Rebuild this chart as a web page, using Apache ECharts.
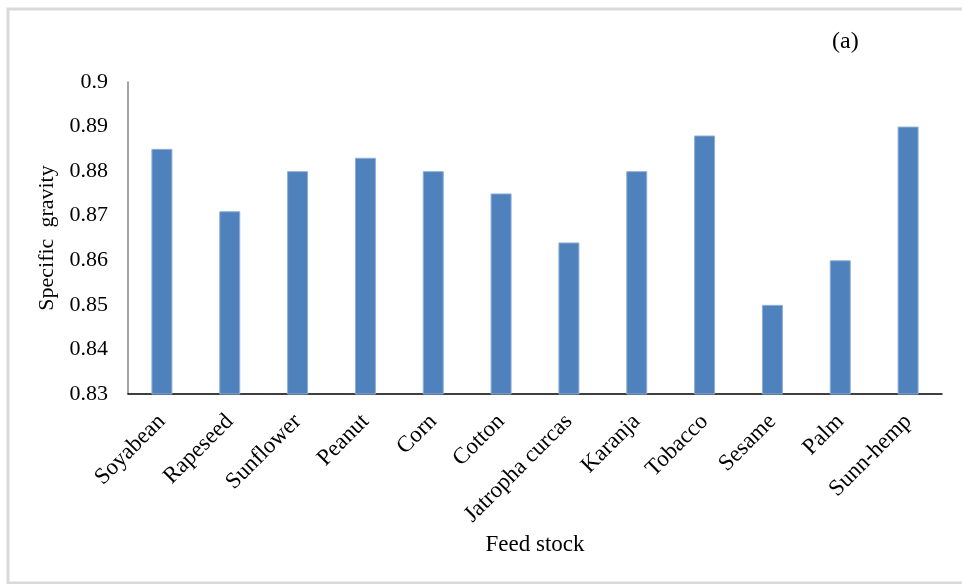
<!DOCTYPE html>
<html>
<head>
<meta charset="utf-8">
<script src="https://cdn.jsdelivr.net/npm/echarts@6/dist/echarts.min.js"></script>
<style>
  html, body { margin: 0; padding: 0; background: #ffffff; }
  #chart { width: 962px; height: 584px; }
</style>
</head>
<body>
<div id="chart"></div>
<script>
// Feed stocks and their specific gravity
const categories = ['Soyabean', 'Rapeseed', 'Sunflower', 'Peanut', 'Corn', 'Cotton',
  'Jatropha curcas', 'Karanja', 'Tobacco', 'Sesame', 'Palm', 'Sunn-hemp'];
const specificGravity = [0.885, 0.871, 0.880, 0.883, 0.880, 0.875,
  0.864, 0.880, 0.888, 0.850, 0.860, 0.890];
const yTicks = { min: 0.83, max: 0.9, step: 0.01 };

const serif = '"Liberation Serif", "Times New Roman", serif';
const chart = echarts.init(document.getElementById('chart'));

chart.setOption({
  backgroundColor: '#ffffff',
  animation: false,
  grid: { left: 128, right: 20, top: 82, bottom: 190, containLabel: false },
  graphic: [
    {
      type: 'rect',
      shape: { x: 8, y: 9, width: 980, height: 574 },
      style: { fill: 'none', stroke: '#D9D9D9', lineWidth: 3 },
      silent: true
    },
    {
      type: 'text',
      left: 832, top: 30,
      style: { text: '(a)', font: '24px ' + serif, fill: '#000000' }
    }
  ],
  xAxis: {
    type: 'category',
    data: categories,
    name: 'Feed stock',
    nameLocation: 'middle',
    nameGap: 139,
    nameTextStyle: { fontFamily: serif, fontSize: 23, color: '#000000' },
    axisLine: { lineStyle: { color: '#000000', width: 1.5 } },
    axisTick: { show: false },
    axisLabel: {
      rotate: 45,
      interval: 0,
      margin: 24,
      fontFamily: serif,
      fontSize: 23,
      color: '#000000'
    }
  },
  yAxis: {
    type: 'value',
    min: yTicks.min,
    max: yTicks.max,
    interval: yTicks.step,
    name: 'Specific  gravity',
    nameLocation: 'middle',
    nameGap: 67,
    nameTextStyle: { fontFamily: serif, fontSize: 22, color: '#000000' },
    axisLine: { show: true, lineStyle: { color: '#868686', width: 1.5 } },
    axisTick: { show: false },
    splitLine: { show: false },
    axisLabel: {
      margin: 20,
      fontFamily: serif,
      fontSize: 22,
      color: '#000000',
      formatter: function (v) { return String(parseFloat(v.toFixed(2))); }
    }
  },
  series: [{
    type: 'bar',
    data: specificGravity,
    barWidth: 21,
    itemStyle: { color: '#4F81BD', borderColor: '#8EAFD8', borderWidth: 1 }
  }]
});
</script>
</body>
</html>
